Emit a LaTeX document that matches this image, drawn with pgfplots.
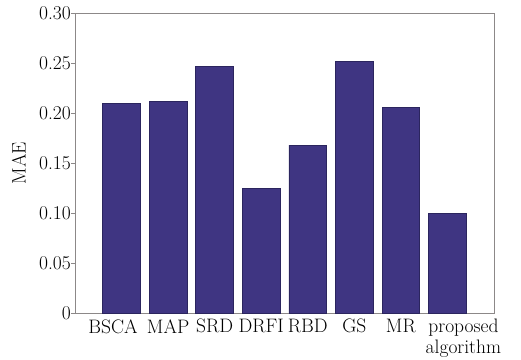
\documentclass[border=0pt]{standalone}
\usepackage{pgfplots}
\pgfplotsset{compat=1.18}
\definecolor{barfill}{HTML}{3F3582}
\definecolor{baredge}{HTML}{2B255E}
\definecolor{axgray}{HTML}{8C8888}
\begin{document}
\begin{tikzpicture}
\begin{axis}[
  scale only axis, width=419pt, height=300pt,
  xmin=-1, xmax=8, ymin=0, ymax=0.30,
  axis line style={axgray, line width=0.8pt},
  tick pos=left, tick align=inside,
  major tick length=4pt,
  tick style={axgray, line width=0.8pt},
  ytick style={xshift=-4pt},
  xtick={0,1,2,3,4,5,6,7},
  xticklabels={{\hspace*{-17pt}BSCA},MAP,SRD,DRFI,RBD,GS,MR,{\hspace*{32pt}\shortstack{proposed\\algorithm}}},
  ytick={0,0.05,0.10,0.15,0.20,0.25,0.30},
  yticklabels={0,0.05,0.10,0.15,0.20,0.25,0.30},
  tick label style={font=\fontsize{19.5}{19.5}\selectfont},
  yticklabel style={inner sep=1pt, xshift=-3pt},
  xticklabel style={anchor=north, inner sep=2pt, yshift=-4pt},
  ylabel={MAE},
  ylabel shift=9pt,
  ylabel style={font=\fontsize{19.5}{19.5}\selectfont},
]
\addplot[ybar, bar width=0.81, fill=barfill, draw=baredge, line width=0.8pt]
  coordinates {(0,0.210) (1,0.212) (2,0.247) (3,0.125) (4,0.168) (5,0.252) (6,0.206) (7,0.100)};
\end{axis}
\path (current axis.south west) ++(-75pt,-45pt) rectangle ([xshift=27pt,yshift=13pt]current axis.north east);
\end{tikzpicture}
\end{document}
